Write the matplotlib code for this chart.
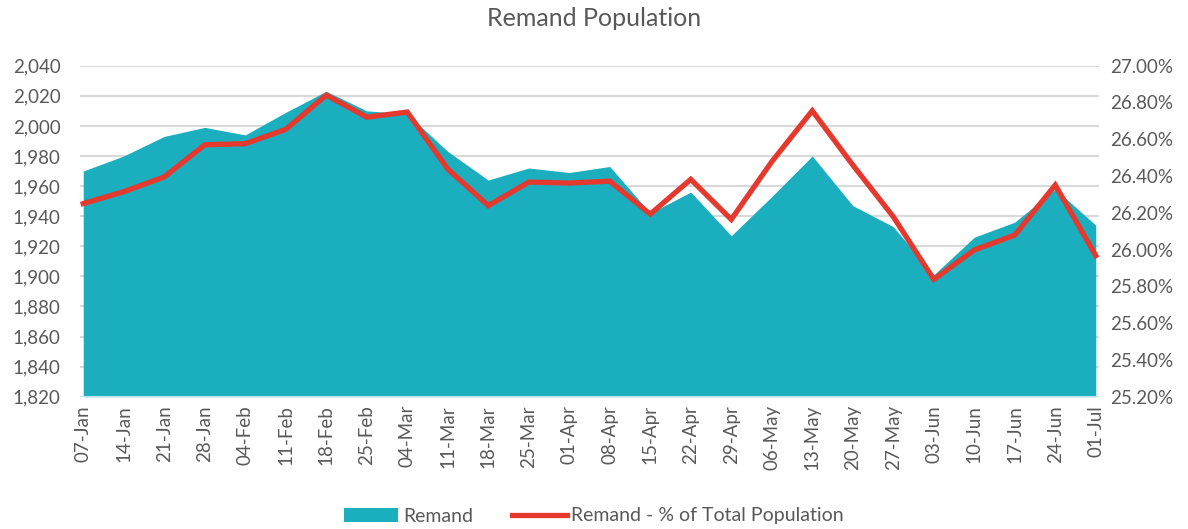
import matplotlib
matplotlib.use("Agg")
import matplotlib.pyplot as plt
from matplotlib.patches import Patch
from matplotlib.lines import Line2D
from matplotlib.ticker import FuncFormatter, MultipleLocator

plt.rcParams['font.family'] = ['Lato', 'DejaVu Sans']

dates = ["07-Jan", "14-Jan", "21-Jan", "28-Jan", "04-Feb", "11-Feb", "18-Feb", "25-Feb",
         "04-Mar", "11-Mar", "18-Mar", "25-Mar", "01-Apr", "08-Apr", "15-Apr", "22-Apr",
         "29-Apr", "06-May", "13-May", "20-May", "27-May", "03-Jun", "10-Jun", "17-Jun",
         "24-Jun", "01-Jul"]
remand = [1970, 1980, 1993, 1999, 1994, 2009, 2023, 2010, 2008, 1983, 1964, 1972, 1969,
          1973, 1942, 1956, 1927, 1953, 1980, 1947, 1933, 1901, 1926, 1936, 1958, 1934]
remand_pct = [26.25, 26.315, 26.395, 26.57, 26.576, 26.654, 26.84, 26.72, 26.748, 26.438,
              26.239, 26.367, 26.362, 26.372, 26.193, 26.382, 26.164, 26.478, 26.755, 26.46,
              26.179, 25.838, 25.998, 26.079, 26.351, 25.967]

TEAL = "#1AAEBE"
RED = "#E5392E"
GRAY = "#595959"

W, H = 1188, 529
fig = plt.figure(figsize=(W / 100, H / 100), dpi=100)
left, right, top, bottom = 80, 1099, 65.7, 396.7
ax = fig.add_axes([left / W, 1 - bottom / H, (right - left) / W, (bottom - top) / H])

x = list(range(len(dates)))
ax.fill_between(x, 1820, remand, color=TEAL, linewidth=0, zorder=2)
ax.set_ylim(1820, 2040)
ax.set_xlim(-0.08, len(dates) - 1 + 0.08)
ax.yaxis.set_major_locator(MultipleLocator(20))
ax.yaxis.set_major_formatter(FuncFormatter(lambda v, p: f"{v:,.0f}"))
ax.grid(axis='y', color="#D9D9D9", linewidth=1.5, zorder=1)
ax.set_axisbelow(True)
for s in ax.spines.values():
    s.set_visible(False)
ax.set_xticks(x)
ax.set_xticklabels(dates, rotation=90)
ax.tick_params(axis='x', length=0, pad=6, labelsize=13.5, labelcolor=GRAY)
ax.tick_params(axis='y', length=0, pad=14, labelsize=13.5, labelcolor=GRAY)
ax.axhline(1820, color="#BFE3E8", linewidth=1.5, zorder=3)

ax2 = ax.twinx()
ax2.plot(x, remand_pct, color=RED, linewidth=3.8, solid_joinstyle='miter', zorder=4)
ax2.set_ylim(25.2, 27.0)
ax2.yaxis.set_major_locator(MultipleLocator(0.2))
ax2.yaxis.set_major_formatter(FuncFormatter(lambda v, p: f"{v:.2f}%"))
for s in ax2.spines.values():
    s.set_visible(False)
ax2.tick_params(axis='y', length=0, pad=8, labelsize=13.5, labelcolor=GRAY)

fig.text(0.5, 1 - 18 / H, "Remand Population", ha='center', va='center',
         fontsize=18, color=GRAY)

handles = [Patch(facecolor=TEAL, edgecolor='none'),
           Line2D([0], [0], color=RED, linewidth=3.8)]
fig.legend(handles, ["Remand", "Remand - % of Total Population"], loc='center',
           bbox_to_anchor=(0.5, 1 - 516 / H), ncol=2, frameon=False,
           fontsize=14, labelcolor=GRAY, handlelength=2.8, handleheight=0.7,
           handletextpad=0.25, columnspacing=2.0)

fig.savefig("out.png", dpi=100)
